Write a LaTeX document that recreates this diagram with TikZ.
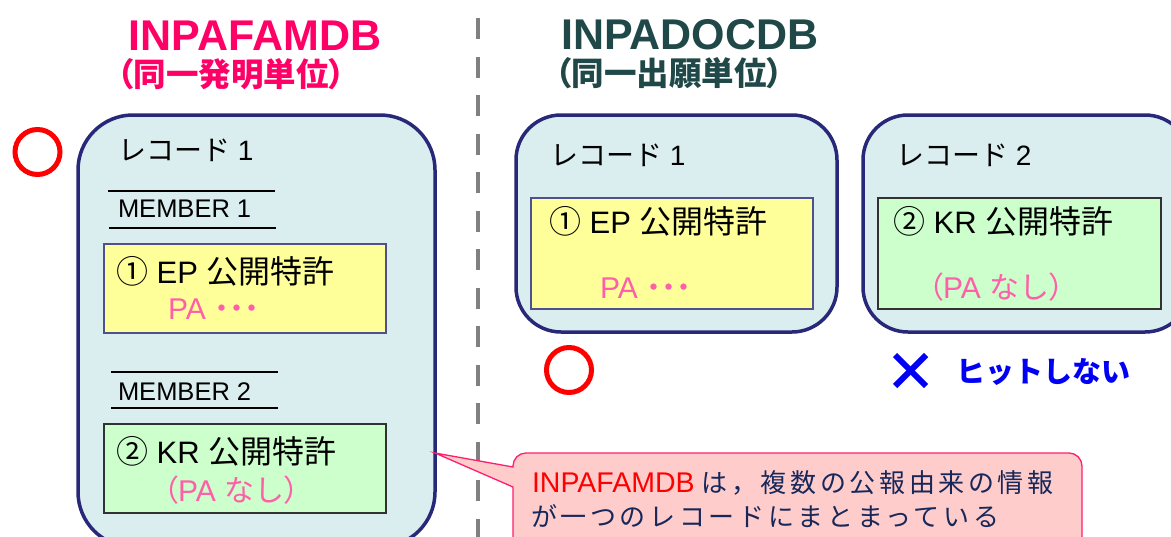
\documentclass[tikz,border=0pt]{standalone}
\usepackage{fontspec}
\setmainfont{Liberation Sans}
\newfontfamily\jp{Noto Sans CJK JP}
\newfontfamily\jpp{Noto Sans CJK JP}[RawFeature=+palt]
\newfontfamily\jpc{Noto Sans CJK JP}[LetterSpace=14]
\definecolor{titlepink}{RGB}{255,0,102}
\definecolor{titleteal}{RGB}{32,72,72}
\definecolor{recfill}{RGB}{218,237,239}
\definecolor{recline}{RGB}{40,40,122}
\definecolor{yel}{RGB}{255,255,153}
\definecolor{yelline}{RGB}{80,80,140}
\definecolor{grn}{RGB}{204,255,204}
\definecolor{grnline}{RGB}{50,50,50}
\definecolor{pa}{RGB}{255,95,168}
\definecolor{calfill}{RGB}{255,204,204}
\definecolor{calline}{RGB}{255,30,110}
\definecolor{caltext}{RGB}{22,40,90}
\definecolor{hitblue}{RGB}{0,0,245}
\definecolor{dashgray}{RGB}{128,128,128}
\newcommand{\cjkbig}[1]{{\jp\fontsize{32}{36}\selectfont #1}}
\tikzset{
  txt/.style={inner sep=0pt, outer sep=0pt, anchor=base west},
  ttl/.style={inner sep=0pt, anchor=base, font=\fontsize{43}{50}\selectfont\bfseries},
  sub/.style={inner sep=0pt, anchor=base, font=\jpp\bfseries\fontsize{32.5}{36}\selectfont},
  recbox/.style={draw=recline, line width=3.5pt, fill=recfill, inner sep=0pt},
  yelbox/.style={draw=yelline, line width=1.3pt, fill=yel, inner sep=0pt},
  grnbox/.style={draw=grnline, line width=1.3pt, fill=grn, inner sep=0pt},
  lbl/.style={txt, font=\fontsize{31}{36}\selectfont},
  rlbl/.style={txt, font=\fontsize{28}{34}\selectfont},
  mem/.style={txt, font=\fontsize{25.5}{30}\selectfont},
  patext/.style={txt, text=pa, font=\fontsize{30}{36}\selectfont},
  okmark/.style={draw=red, line width=5pt},
  memline/.style={line width=1.6pt},
}
\begin{document}
\begin{tikzpicture}[x=1pt,y=-1pt]
\useasboundingbox (0,0) rectangle (1171,536);
% divider
\draw[dashgray, line width=4pt, dash pattern=on 21pt off 17.5pt] (478,18) -- (478,540);
% titles
\node[ttl, text=titlepink] (t1) at (255,50) {INPAFAMDB};
\node[sub, text=titlepink] (s1) at (231,86) {（同一発明単位）};
\node[ttl, text=titleteal] (t2) at (690,49) {INPADOCDB};
\node[sub, text=titleteal] (s2) at (669,85) {（同一出願単位）};
% left record
\node[recbox, rounded corners=55pt, minimum width=357pt, minimum height=432pt] (L) at (256.5,331) {};
\draw[okmark] (37.5,152) circle (22.5);
\node[rlbl] (Lr) at (118,160) {{\jp レコード} 1};
\draw[memline] (108,191) -- (275,191);
\draw[memline] (109,228) -- (276,228);
\node[mem] (m1) at (118,217) {MEMBER 1};
\node[yelbox, minimum width=282pt, minimum height=89pt] (Ly) at (245,288.5) {};
\node[lbl] (Lyt) at (116,283) {\cjkbig{①} EP \cjkbig{公開特許}};
\node[patext] (Lyp) at (168,319) {PA {\jp\bfseries ･･･}};
\draw[memline] (111,372) -- (278,372);
\draw[memline] (111,408) -- (278,408);
\node[mem] (m2) at (118,400) {MEMBER 2};
\node[grnbox, minimum width=282pt, minimum height=89pt] (Lg) at (245,468.5) {};
\node[lbl] (Lgt) at (116,463) {\cjkbig{②} KR \cjkbig{公開特許}};
\node[patext] (Lgp) at (163,501) {{\jpp （}PA {\jp なし}{\jpp ）}};
% right record 1
\node[recbox, rounded corners=45pt, minimum width=321pt, minimum height=217pt] (R1) at (676.5,223.5) {};
\node[rlbl] (R1r) at (550,165) {{\jp レコード} 1};
\node[yelbox, minimum width=282pt, minimum height=111pt] (R1y) at (672,253.5) {};
\node[lbl] (R1t) at (549,233) {\cjkbig{①} EP \cjkbig{公開特許}};
\node[patext] (R1p) at (600,298) {PA {\jp\bfseries ･･･}};
\draw[okmark] (569,370) circle (22.5);
% right record 2
\node[recbox, rounded corners=45pt, minimum width=327pt, minimum height=217pt] (R2) at (1026.5,223.5) {};
\node[rlbl] (R2r) at (896,165) {{\jp レコード} 2};
\node[grnbox, minimum width=283pt, minimum height=111pt] (R2g) at (1019.5,253.5) {};
\node[lbl] (R2t) at (893,233) {\cjkbig{②} KR \cjkbig{公開特許}};
\node[patext] (R2p) at (928,298) {{\jpp （}PA {\jp なし}{\jpp ）}};
% no hit
\draw[hitblue, line width=6pt] (895,355) -- (926,386);
\draw[hitblue, line width=6pt] (926,355) -- (895,386);
\node[txt, text=hitblue, font=\jp\bfseries\fontsize{29}{34}\selectfont] (nh) at (956,382) {ヒットしない};
% callout
\coordinate (tip) at (435,453);
\draw[calline, fill=calfill, line width=1.3pt] (513,467) [rounded corners=13pt] -- (513,453) -- (1082,453) -- (1082,550) -- (513,550) [sharp corners] -- (513,487) -- (tip) -- cycle;
\node[txt, font=\fontsize{26}{34}\selectfont] (c1) at (532,492) {\textcolor{red}{\fontsize{28.5}{34}\selectfont INPAFAMDB}\hspace{7pt}\textcolor{caltext}{\jpc は，複数の公報由来の情報}};
\node[txt, text=caltext, font=\jpc\fontsize{26}{34}\selectfont] (c2) at (531,526) {が一つのレコードにまとまっている};
\end{tikzpicture}
\end{document}
